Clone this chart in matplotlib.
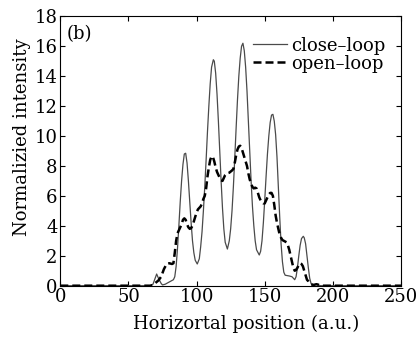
import matplotlib
matplotlib.use("Agg")
import matplotlib.pyplot as plt

plt.rcParams['font.family'] = ['DejaVu Serif']
plt.rcParams['mathtext.fontset'] = 'dejavuserif'

close_x = [0, 66, 68, 70, 70.7, 72, 74, 75, 77, 80, 82, 83, 84, 85, 86, 87, 88, 89, 90, 91, 92, 93,
           94, 95, 96, 97, 98, 99, 100.5, 102, 103, 104, 105, 106, 107, 108, 109, 110, 111, 112.3,
           113, 114, 115, 116, 117, 118, 119, 120, 121, 122.6, 124, 125, 126, 127, 128, 129, 130,
           131, 132, 133, 134, 135, 136, 137, 138, 139, 140, 141, 142, 143, 144, 146, 147, 148,
           149, 150, 151, 152, 153, 154, 155, 156, 157, 158, 159, 160, 161, 162, 163, 164, 165,
           168, 170, 172, 173, 174, 175, 176, 177, 178.3, 179, 180, 181, 182, 183, 184, 185, 187,
           189, 191, 250]
close_y = [0, 0, 0.1, 0.6, 0.78, 0.5, 0.15, 0.05, 0.1, 0.25, 0.35, 0.4, 0.6, 1.3, 2.5, 4.0, 5.6,
           7.0, 8.1, 8.8, 8.85, 8.2, 7.0, 5.6, 4.2, 3.0, 2.2, 1.7, 1.45, 1.8, 2.6, 3.6, 5.0, 6.6,
           8.4, 10.3, 12.0, 13.5, 14.6, 15.1, 15.0, 14.2, 12.8, 11.0, 9.0, 7.0, 5.2, 3.8, 2.9,
           2.45, 3.0, 3.8, 5.0, 6.6, 8.5, 10.5, 12.4, 14.0, 15.2, 16.0, 16.2, 15.7, 14.6, 13.0,
           11.0, 9.0, 7.0, 5.3, 4.0, 3.0, 2.4, 2.05, 2.3, 3.0, 4.2, 5.7, 7.3, 8.8, 10.0, 10.9,
           11.4, 11.45, 11.0, 10.1, 8.6, 6.6, 4.6, 2.8, 1.6, 0.9, 0.7, 0.65, 0.6, 0.4, 0.6, 1.2,
           2.0, 2.7, 3.15, 3.3, 3.2, 2.8, 2.0, 1.2, 0.5, 0.15, 0.0, 0.1, 0.05, 0.0, 0.0]

open_x = [0, 66, 68, 70, 72, 74, 76, 78, 80, 82, 83, 84, 85, 86, 87, 88, 89, 90, 91, 92, 93, 94,
          95, 96, 97, 98, 99, 100, 101, 102, 103, 104, 105, 106, 107, 108, 109, 110, 111, 112,
          113, 114, 115, 116, 117, 118, 119, 120, 121, 122, 124, 126, 127, 128, 129, 130, 131,
          132, 133, 134, 135, 136, 137, 138, 139, 140, 141, 142, 143, 144, 145, 146, 147, 148,
          149, 150, 151, 152, 153, 154, 155, 156, 157, 158, 159, 160, 161, 162, 163, 164, 165,
          166, 167, 168, 169, 170, 171, 172, 173, 174, 175, 176, 177, 178, 179, 180, 181, 182,
          183, 184, 186, 188, 190, 192, 250]
open_y = [0, 0, 0.05, 0.2, 0.35, 0.6, 1.1, 1.45, 1.5, 1.45, 1.5, 2.2, 3.0, 3.5, 3.7, 3.9, 4.1,
          4.4, 4.5, 4.4, 4.1, 3.9, 3.8, 3.85, 4.0, 4.3, 4.6, 4.9, 5.1, 5.2, 5.3, 5.5, 5.8, 6.0,
          6.5, 7.3, 7.9, 8.4, 8.65, 8.6, 8.3, 7.9, 7.6, 7.4, 7.2, 7.05, 7.0, 7.2, 7.4, 7.5, 7.55,
          7.7, 7.8, 8.2, 8.7, 9.1, 9.3, 9.35, 9.2, 8.9, 8.6, 8.3, 8.0, 7.5, 7.1, 6.8, 6.6, 6.5,
          6.55, 6.5, 6.2, 5.9, 5.7, 5.6, 5.5, 5.5, 5.7, 5.9, 6.1, 6.2, 6.2, 6.0, 5.4, 4.7, 4.2,
          3.8, 3.4, 3.2, 3.05, 3.0, 2.95, 2.9, 2.7, 2.4, 2.0, 1.6, 1.2, 1.0, 1.05, 1.2, 1.4, 1.5,
          1.45, 1.3, 1.0, 0.7, 0.4, 0.3, 0.15, 0.1, 0.05, 0.1, 0.05, 0, 0]

x_ticks = [0, 50, 100, 150, 200, 250]
y_ticks = [0, 2, 4, 6, 8, 10, 12, 14, 16, 18]

fig = plt.figure(figsize=(4.2, 3.37), dpi=100)
ax = fig.add_axes([60.3/420, 1-285.7/337, (401-60.3)/420, (285.7-16.3)/337])

ax.plot(close_x, close_y, color='#4a4a4a', lw=0.9, label='close\u2013loop')
ax.plot(open_x, open_y, color='black', lw=1.8, ls=(0, (3.2, 1.6)), label='open\u2013loop')

ax.set_xlim(0, 250)
ax.set_ylim(0, 18)
ax.set_xticks(x_ticks)
ax.set_yticks(y_ticks)
ax.tick_params(direction='in', length=3.5, width=0.8, top=True, right=True,
               labelsize=13, pad=2, colors='black')
for s in ax.spines.values():
    s.set_linewidth(0.8)

ax.set_xlabel('Horizortal position (a.u.)', fontsize=13)
ax.set_ylabel('Normalizied intensity', fontsize=13)
ax.xaxis.set_label_coords(0.5 + 15/340.7, -0.108)
ax.yaxis.set_label_coords(-0.087, 0.55)

ax.text(0.02, 0.968, '(b)', transform=ax.transAxes, fontsize=13, va='top', ha='left')

leg = ax.legend(loc='upper right', bbox_to_anchor=(0.955, 0.925), frameon=False,
                fontsize=13, handlelength=1.9, handletextpad=0.25, labelspacing=0.0,
                borderpad=0, borderaxespad=0)

fig.savefig('out.png', dpi=100)
